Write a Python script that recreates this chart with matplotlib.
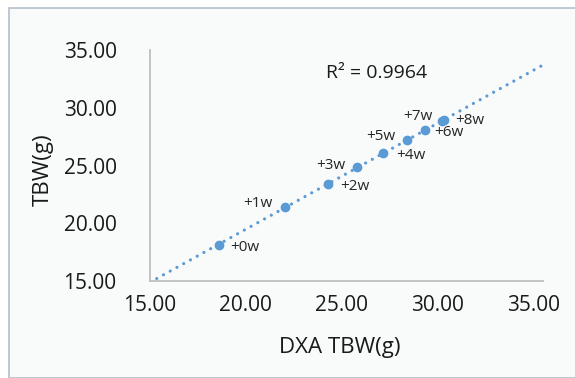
import matplotlib
matplotlib.use("Agg")
import matplotlib.pyplot as plt
from matplotlib.patches import Rectangle
import numpy as np

plt.rcParams['font.family'] = ['Open Sans', 'DejaVu Sans']

# data
labels = ['+0w', '+1w', '+2w', '+3w', '+4w', '+5w', '+6w', '+7w', '+8w']
dxa_tbw = [18.59, 22.03, 24.26, 25.80, 27.15, 28.40, 29.32, 30.25, 30.32]
tbw = [18.12, 21.41, 23.37, 24.84, 26.08, 27.21, 28.04, 28.85, 28.90]
r2_text = 'R² = 0.9964'
ticks = [15, 20, 25, 30, 35]

# label offsets in pixels (left-above or right-below of the dot)
offsets = {'+0w': (11, -3), '+1w': (-12, 3), '+2w': (13, -2), '+3w': (-12, 2),
           '+4w': (13, -2), '+5w': (-11, 3), '+6w': (10, -2), '+7w': (-10, 5),
           '+8w': (11, 0)}

blue = '#5b9bd5'
W, H = 575, 378
fig = plt.figure(figsize=(W / 100, H / 100), dpi=100)
fig.patch.set_facecolor('white')
fig.patches.append(Rectangle((9 / W, 0), 1, 1 - 8 / H, transform=fig.transFigure,
                             facecolor='#f9fafa', edgecolor='#b4c0cc', linewidth=1.2,
                             zorder=-5))

ax = fig.add_axes([150 / W, (H - 281) / H, 393 / W, 231 / H])
ax.set_facecolor('none')

# linear trendline
k, b = np.polyfit(dxa_tbw, tbw, 1)
xs = np.array([15, 35.5])
ax.plot(xs, k * xs + b, linestyle=(0, (0.01, 2.4)), color=blue, linewidth=2.3,
        dash_capstyle='round', zorder=2)
ax.plot(dxa_tbw, tbw, 'o', color=blue, markersize=6, zorder=3)

for lab, x, y in zip(labels, dxa_tbw, tbw):
    dx, dy = offsets[lab]
    ax.annotate(lab, (x, y), xytext=(dx, dy), textcoords='offset pixels',
                ha='left' if dx > 0 else 'right', va='center',
                fontsize=11, color='#262626')

ax.text(377 / W, 1 - 73 / H, r2_text, transform=fig.transFigure, ha='center',
        va='center', fontsize=14, color='#1a1a1a')

ax.set_xlim(15, 35.5)
ax.set_ylim(15, 35)
ax.set_xticks(ticks)
ax.set_yticks(ticks)
ax.set_xticklabels([f'{t:.2f}' for t in ticks])
ax.set_yticklabels([f'{t:.2f}' for t in ticks])
ax.tick_params(length=0, labelsize=15, colors='#1a1a1a', pad=10)
ax.tick_params(axis='y', pad=24)
for s in ['top', 'right']:
    ax.spines[s].set_visible(False)
for s in ['left', 'bottom']:
    ax.spines[s].set_color('#bfbfbf')
    ax.spines[s].set_linewidth(1.3)

ax.set_xlabel('DXA TBW(g)', fontsize=16, color='#1a1a1a')
ax.set_ylabel('TBW(g)', fontsize=16, color='#1a1a1a')
ax.xaxis.set_label_coords((340 - 150) / 393, -(348 - 281) / 231)
ax.yaxis.set_label_coords(-(150 - 43) / 393, (281 - 170) / 231)
ax.xaxis.label.set_va('center')
ax.yaxis.label.set_va('center')

fig.savefig('out.png', dpi=100)
